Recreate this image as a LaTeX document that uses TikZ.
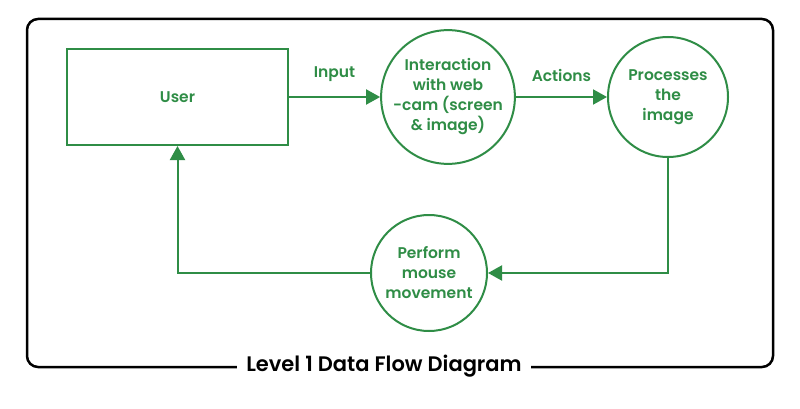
\documentclass[tikz,border=0pt]{standalone}
\usepackage{fontspec}
\setmainfont{Poppins}[UprightFont=* Medium, BoldFont=* SemiBold]
\usetikzlibrary{arrows.meta}
\definecolor{dfgreen}{RGB}{47,141,70}
\begin{document}
\begin{tikzpicture}[x=1pt,y=-1pt,
  flow/.style={draw=dfgreen,line width=2pt,-{Triangle[length=14pt,width=15pt]}},
  proc/.style={circle,draw=dfgreen,line width=2pt,minimum size=122pt,inner sep=0pt,
    text=dfgreen,align=center,font=\bfseries\fontsize{15.5}{20}\selectfont},
  entity/.style={rectangle,draw=dfgreen,line width=2pt,minimum width=221pt,minimum height=96pt,
    text=dfgreen,font=\bfseries\fontsize{15.5}{20}\selectfont},
  lbl/.style={text=dfgreen,font=\bfseries\fontsize{15.5}{16}\selectfont},
  ttl/.style={fill=white,inner xsep=9pt,font=\bfseries\fontsize{21}{24}\selectfont}]
\useasboundingbox (0,0) rectangle (800,409);
\fill[white] (0,0) rectangle (800,409);
\draw[black,line width=2.5pt,rounded corners=11pt] (27,19) rectangle (773,367);
\node[ttl] (title) at (384,366) {Level 1 Data Flow Diagram};
\node[entity] (user) at (177.5,97) {User};
\node[proc] (p1) at (448,97) {Interaction\\with web\\-cam (screen\\\& image)};
\node[proc,minimum size=120pt] (p2) at (668,97) {Processes\\the\\image};
\node[proc,minimum size=116pt] (p3) at (429,273) {Perform\\mouse\\movement};
\draw[flow] (user.east) -- node[lbl,above=11pt] (lin) {Input} (p1.west);
\draw[flow] (p1.east) -- node[lbl,above=11pt] (lact) {Actions} (p2.west);
\draw[flow] (p2.south) |- (p3.east);
\draw[flow] (p3.west) -| (user.south);
\end{tikzpicture}
\end{document}
